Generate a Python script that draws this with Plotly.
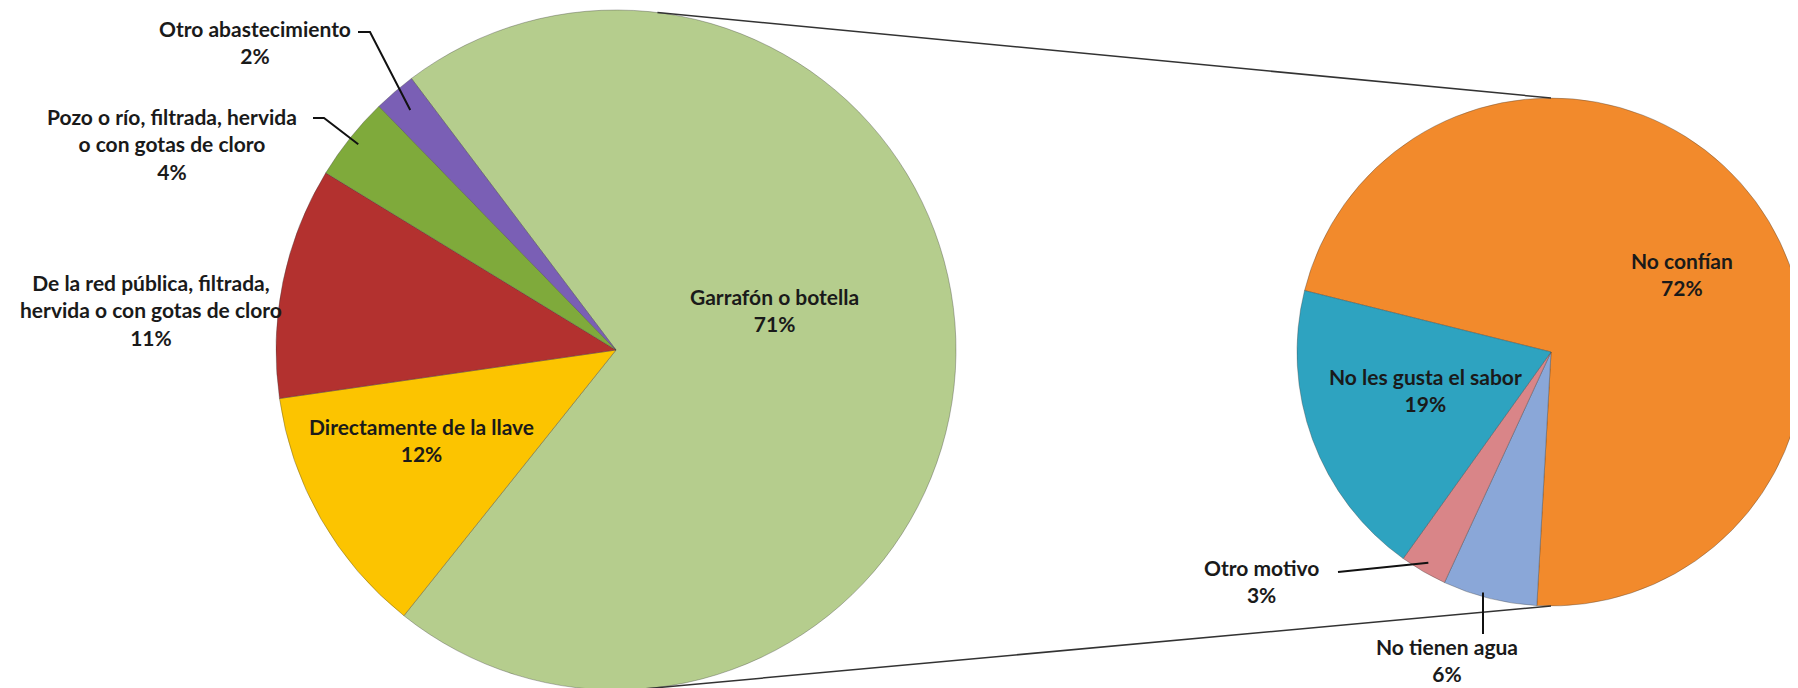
import math
import plotly.graph_objects as go

# Pie principal: origen del agua que se bebe
fuente_labels = ["Garrafón o botella", "Directamente de la llave",
                 "De la red pública, filtrada,<br>hervida o con gotas de cloro",
                 "Pozo o río, filtrada, hervida<br>o con gotas de cloro",
                 "Otro abastecimiento"]
fuente_values = [71, 12, 11, 4, 2]

# Pie secundario: motivos para no beber de la llave
motivo_labels = ["No confían", "No tienen agua", "Otro motivo", "No les gusta el sabor"]
motivo_values = [72, 6, 3, 19]

fuente_colors = ["#b5cd8d", "#fcc400", "#b3312f", "#7faa3b", "#7a5fb5"]
motivo_colors = ["#f28a2c", "#8aa7d8", "#d98588", "#2ea3c0"]

W, H = 1798, 688
FONT = dict(family="Lato, Arial, sans-serif", size=21, color="#1a1a1a", weight="bold")

# geometria (pixeles)
L = dict(cx=608, cy=342, r=340, rot=-37)
R = dict(cx=1543, cy=344, r=254, rot=-76)


def px(x, y):
    return x / W, 1 - y / H


def dom(p):
    x0, y0 = px(p["cx"] - p["r"], p["cy"] + p["r"])
    x1, y1 = px(p["cx"] + p["r"], p["cy"] - p["r"])
    return dict(x=[x0, x1], y=[y0, y1])


def edge(p, ang, f=1.0):
    a = math.radians(ang)
    return p["cx"] + f * p["r"] * math.sin(a), p["cy"] - f * p["r"] * math.cos(a)


def mid_angles(p, vals):
    tot = sum(vals)
    out, acc = [], p["rot"]
    for v in vals:
        span = 360 * v / tot
        out.append(acc + span / 2)
        acc += span
    return out


fig = go.Figure()
for p, labs, vals, cols in [(L, fuente_labels, fuente_values, fuente_colors),
                            (R, motivo_labels, motivo_values, motivo_colors)]:
    fig.add_trace(go.Pie(
        labels=labs, values=vals, sort=False, direction="clockwise",
        rotation=p["rot"], domain=dom(p), textinfo="none",
        marker=dict(colors=cols, line=dict(color="rgba(60,60,60,0.35)", width=1)),
        showlegend=False,
    ))

# etiquetas (centro del bloque de texto, en pixeles)
fuente_pos = [(766, 302), (413, 432), (143, 302), (164, 136), (247, 34)]
motivo_pos = [(1674, 266), (1439, 652), (1253, 573), (1417, 382)]

annotations = []
for labs, vals, pos in [(fuente_labels, fuente_values, fuente_pos),
                        (motivo_labels, motivo_values, motivo_pos)]:
    for lab, v, (x, y) in zip(labs, vals, pos):
        xp, yp = px(x, y)
        annotations.append(dict(x=xp, y=yp, xref="paper", yref="paper",
                                text=f"{lab}<br>{v}%", showarrow=False,
                                font=FONT, align="center",
                                xanchor="center", yanchor="middle"))

shapes = []


def poly(points, width=2, color="#111"):
    path = "M " + " L ".join(f"{px(x, y)[0]},{px(x, y)[1]}" for x, y in points)
    shapes.append(dict(type="path", path=path, xref="paper", yref="paper",
                       line=dict(color=color, width=width)))


# lineas de union entre ambos pies
poly([edge(L, 7), (R["cx"], R["cy"] - R["r"])], width=1.5, color="#333")
poly([edge(L, 175), (R["cx"], R["cy"] + R["r"])], width=1.5, color="#333")

# lineas guia de las etiquetas externas
fm = mid_angles(L, fuente_values)
mm = mid_angles(R, motivo_values)
poly([(350, 24), (362, 24), edge(L, fm[4], 0.93)])
poly([(305, 110), (316, 110), edge(L, fm[3], 0.97)])
poly([(1330, 564), edge(R, mm[2], 0.96)])
ex, ey = edge(R, mm[1], 1.0)
poly([(1475, ey - 6), (1475, 626)])

fig.update_layout(
    width=W, height=H,
    margin=dict(l=0, r=0, t=0, b=0),
    paper_bgcolor="white", plot_bgcolor="white",
    annotations=annotations, shapes=shapes,
)

fig.write_html("out.html")
